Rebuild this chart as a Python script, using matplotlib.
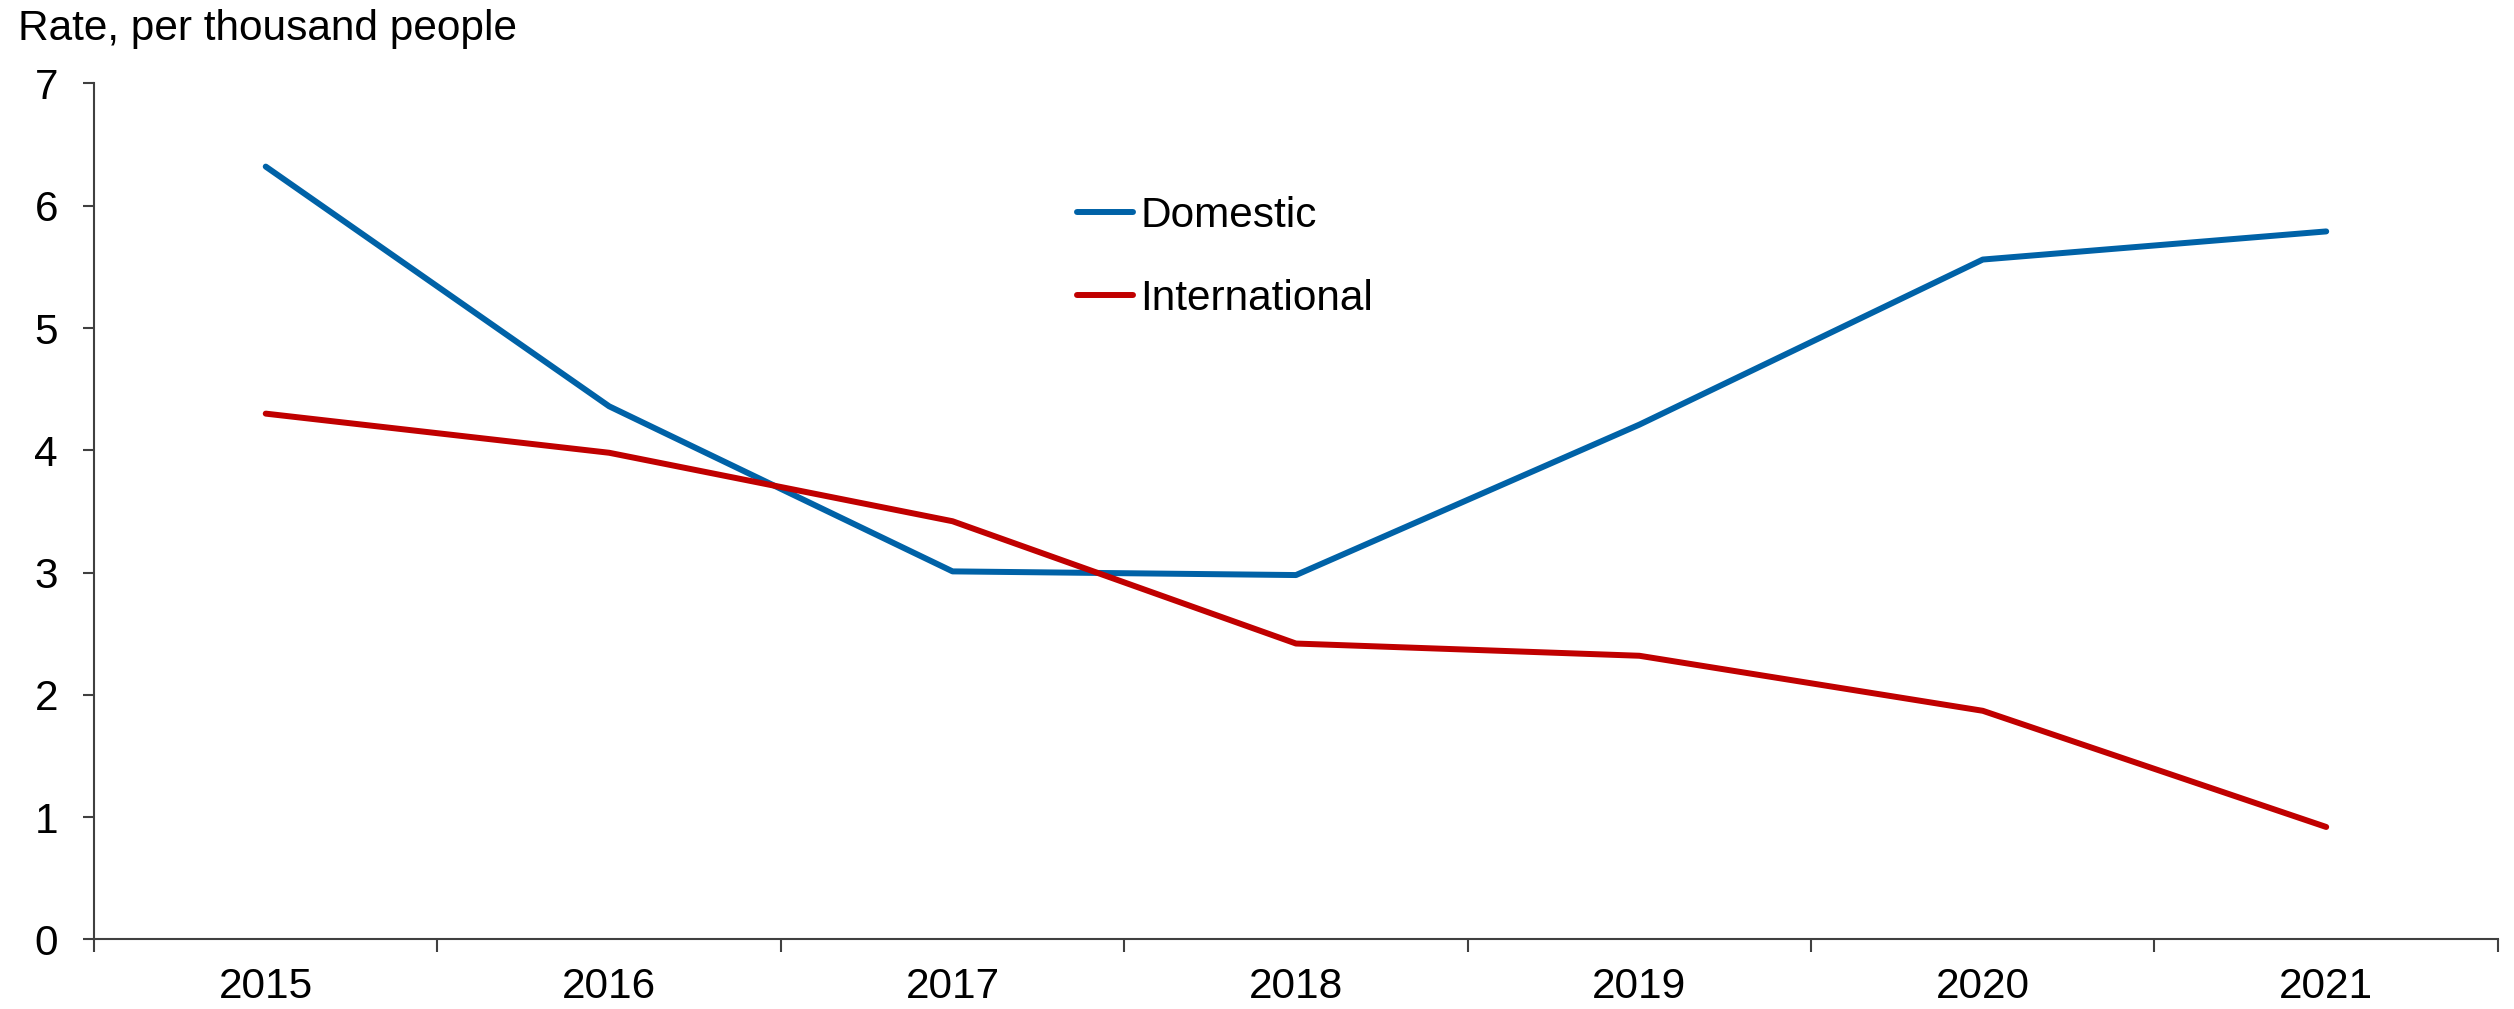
import matplotlib.pyplot as plt
from matplotlib.ticker import FixedLocator, NullFormatter
import numpy as np

plt.rcParams['font.family'] = ['Liberation Sans', 'DejaVu Sans']

# === DATA ===
years = ['2015', '2016', '2017', '2018', '2019', '2020', '2021']
domestic = [6.32, 4.36, 3.01, 2.98, 4.21, 5.56, 5.79]
international = [4.30, 3.98, 3.42, 2.42, 2.32, 1.87, 0.92]
y_ticks = [0, 1, 2, 3, 4, 5, 6, 7]

BLUE = '#0062A7'
RED = '#C00000'
AXIS_COLOR = '#404040'
FS = 30.5

# === PLOT ===
fig = plt.figure(figsize=(25.14, 10.09), dpi=100)
ax = fig.add_axes([0.0374, 0.0689, 0.9562, 0.8484])

x = np.arange(len(years))
ax.plot(x, domestic, color=BLUE, lw=4.3, solid_capstyle='round', label='Domestic')
ax.plot(x, international, color=RED, lw=4.3, solid_capstyle='round', label='International')

ax.set_xlim(-0.5, len(years) - 0.5)
ax.set_ylim(0, 7)

# category boundaries get the tick marks, centres get the labels
ax.xaxis.set_major_locator(FixedLocator(np.arange(-0.5, len(years), 1.0)))
ax.xaxis.set_major_formatter(NullFormatter())
ax.xaxis.set_minor_locator(FixedLocator(x))
ax.set_xticklabels(years, minor=True)
ax.tick_params(axis='x', which='major', length=9.5, width=1.5, color=AXIS_COLOR, direction='out')
ax.tick_params(axis='x', which='minor', length=0, pad=20, labelsize=FS)

ax.set_yticks(y_ticks)
ax.tick_params(axis='y', length=8, width=1.5, color=AXIS_COLOR, pad=18, labelsize=FS)

for side in ['top', 'right']:
    ax.spines[side].set_visible(False)
for side in ['left', 'bottom']:
    ax.spines[side].set_color(AXIS_COLOR)
    ax.spines[side].set_linewidth(1.5)

fig.text(0.0072, 0.971, 'Rate, per thousand people', fontsize=FS, ha='left', va='center')

ax.legend(loc='upper left', bbox_to_anchor=(0.409, 0.869), frameon=False, fontsize=FS,
          handlelength=1.32, handletextpad=0.17, labelspacing=1.02,
          borderaxespad=0, borderpad=0)

fig.savefig('out.png', dpi=100)
